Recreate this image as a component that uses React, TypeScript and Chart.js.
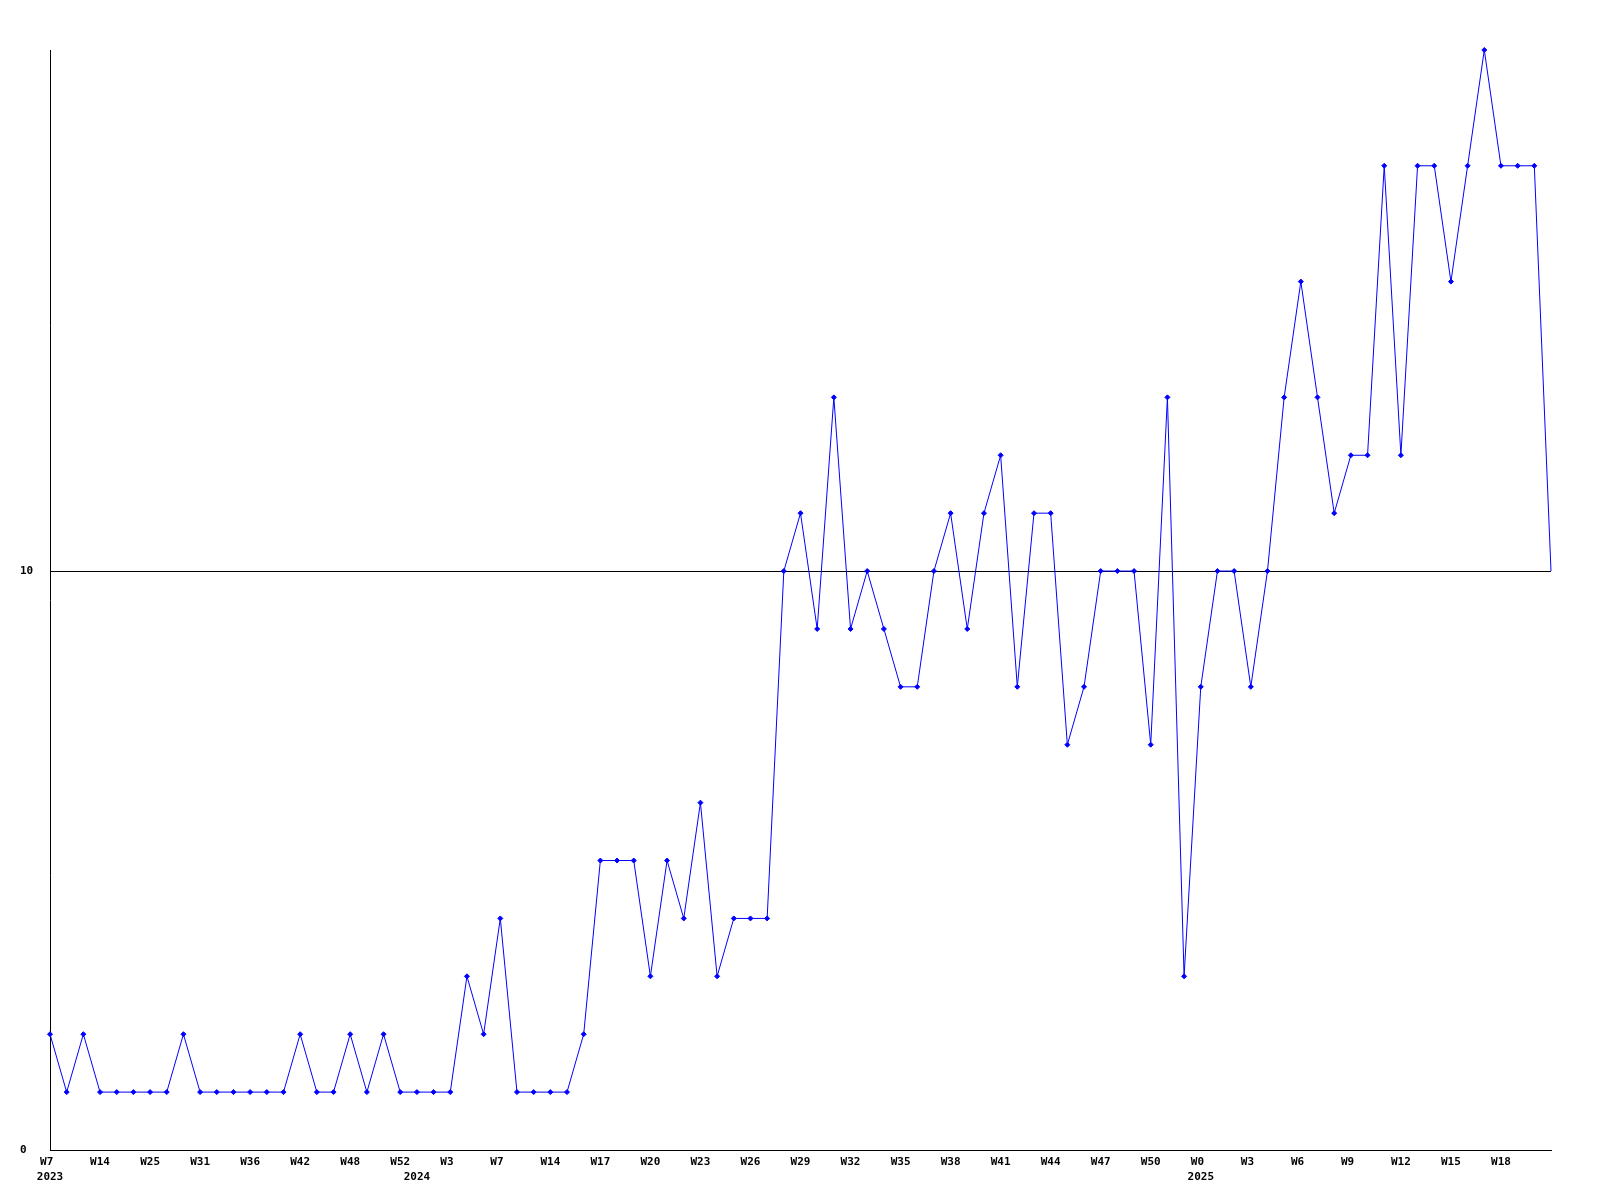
import React, { useEffect, useRef } from "react";
import { Chart, registerables } from "chart.js";

Chart.register(...registerables);

// weekly values, one per week (91 weeks)
const values: number[] = [
  2, 1, 2, 1, 1, 1, 1, 1, 2, 1,
  1, 1, 1, 1, 1, 2, 1, 1, 2, 1,
  2, 1, 1, 1, 1, 3, 2, 4, 1, 1,
  1, 1, 2, 5, 5, 5, 3, 5, 4, 6,
  3, 4, 4, 4, 10, 11, 9, 13, 9, 10,
  9, 8, 8, 10, 11, 9, 11, 12, 8, 11,
  11, 7, 8, 10, 10, 10, 7, 13, 3, 8,
  10, 10, 8, 10, 13, 15, 13, 11, 12, 12,
  17, 12, 17, 17, 15, 17, 19, 17, 17, 17,
  10,
];

// week labels shown on every third week
const tickWeeks: string[] = [
  "W7", "W14", "W25", "W31", "W36", "W42", "W48", "W52", "W3", "W7",
  "W14", "W17", "W20", "W23", "W26", "W29", "W32", "W35", "W38", "W41",
  "W44", "W47", "W50", "W0", "W3", "W6", "W9", "W12", "W15", "W18",
];
const tickEvery = 3;

// year labels and the week index at which each year starts
const yearNames: string[] = ["2023", "2024", "2025"];
const yearStarts: number[] = [0, 22, 69];

const yTicks: number[] = [0, 10];
const yMax = 19;

const categories: string[] = values.map((_, i) => String(i));

export default function App() {
  const ref = useRef<HTMLCanvasElement | null>(null);

  useEffect(() => {
    if (!ref.current) return;
    const font = { family: "'DejaVu Sans Mono', monospace", size: 11, weight: "bold" as const, lineHeight: "15px" };
    const lastIndex = values.length - 1;
    const chart = new Chart(ref.current, {
      type: "line",
      data: {
        labels: categories,
        datasets: [
          {
            data: values,
            borderColor: "#0000ff",
            backgroundColor: "#0000ff",
            borderWidth: 1,
            pointStyle: "rectRot",
            pointRadius: (ctx: any) => (ctx.dataIndex === lastIndex ? 0 : 2.5),
            pointBorderWidth: 1,
            pointBorderColor: "#0000ff",
            pointBackgroundColor: "#0000ff",
            tension: 0,
            fill: false,
            clip: false as any,
          },
        ],
      },
      options: {
        responsive: false,
        animation: false,
        layout: { padding: { left: 20, right: 49, top: 50, bottom: 0 } },
        plugins: {
          legend: { display: false },
          tooltip: { enabled: false },
        },
        scales: {
          x: {
            type: "category",
            offset: false,
            grid: { display: false, drawTicks: false },
            border: { display: true, color: "#000", width: 1 },
            afterFit: (s: any) => {
              s.height = 50;
            },
            ticks: {
              autoSkip: false,
              maxRotation: 0,
              minRotation: 0,
              padding: 5,
              color: "#000",
              font,
              callback: (_v: any, index: number) => {
                const w = index % tickEvery === 0 ? tickWeeks[index / tickEvery] : undefined;
                const yi = yearStarts.indexOf(index);
                const yr = yi >= 0 ? yearNames[yi] : undefined;
                if (!w && !yr) return null;
                if (yr) return [(w ?? "").padEnd(3), yr];
                return (w as string).padEnd(3);
              },
            },
          },
          y: {
            type: "linear",
            min: 0,
            max: yMax,
            afterFit: (s: any) => {
              s.width = 30;
            },
            afterBuildTicks: (s: any) => {
              s.ticks = yTicks.map((v) => ({ value: v }));
            },
            grid: { display: true, drawTicks: false, color: "#000", lineWidth: 1 },
            border: { display: true, color: "#000", width: 1 },
            ticks: {
              crossAlign: "far",
              padding: 4,
              color: "#000",
              font,
            },
          },
        },
      },
    });
    return () => chart.destroy();
  }, []);

  return (
    <div style={{ position: "absolute", left: 0, top: 0, width: 1600, height: 1200, background: "#fff" }}>
      <canvas ref={ref} width={1600} height={1200} style={{ display: "block", width: 1600, height: 1200 }} />
    </div>
  );
}
